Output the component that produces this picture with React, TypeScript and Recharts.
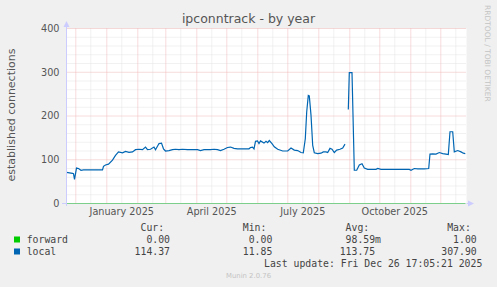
import { LineChart, Line, XAxis, YAxis, CartesianGrid } from "recharts";

const DAY_MS = 86400000;
// graph covers 400 days ending at the last update
const START = Date.UTC(2024, 10, 21, 17, 5, 21);

// days since START
const DAYS = [
  0, 6, 7, 8, 10, 12, 14.5, 17, 36, 37, 39, 42, 46, 49, 52, 56, 59, 62.5, 66, 69,
  72.5, 76, 79, 81, 84, 87.5, 89, 92.5, 95, 97, 99, 102.5, 106, 109, 112.5, 116, 121,
  131, 134, 137.5, 144, 147.5, 151, 154, 157.5, 161, 164, 167.5, 171, 182.5, 184, 186,
  187.5, 189, 191, 192.5, 194, 197.5, 199.5, 201.2, 202.8, 205.5, 207.8, 211.2, 216.2,
  221.2, 224.5, 227.8, 231.2, 234.5, 236.8, 238.8, 240.2, 241.8, 242.8, 244.5, 246.2,
  247.8, 251.2, 254.5, 256.8, 259.5, 261.2, 263.5, 265.5, 267.8, 270.2, 273.5, 276.2,
  278.5, 280, 281.8, 282.8, 285.5, 287.8, 290.2, 292.8, 295.5, 297.8, 301.2, 309.5,
  311.2, 314.5, 342.8, 344.5, 347.8, 351.2, 357.8, 362.2, 363.5, 366.2, 369.5, 372.8,
  376.2, 379.5, 381.8, 383.5, 386.2, 387.8, 391.2, 394.5, 396.8, 398.8,
];
const LOCAL: (number | null)[] = [
  71, 69, 68, 55, 81, 80, 76, 77, 77, 85, 88, 90, 99, 110, 118, 116, 119, 117, 118, 123,
  124, 123, 129, 123, 124, 129, 123, 137, 138, 125, 120, 121, 123, 124, 123, 124, 123,
  123, 121, 123, 123, 124, 123, 121, 124, 128, 129, 126, 125, 125, 128, 129,
  125, 142, 143, 137, 143, 138, 142, 139, 144, 137, 129.5, 124, 120,
  120, 127, 122, 121, 116.5, 116, 148, 209, 247, 246, 202, 133,
  116, 114, 115, 118, 118, 116.5, 126, 124, 116.5, 122, 124, 127,
  135.6, null, 215, 299, 299, 76, 76, 88, 91, 81, 78, 78,
  80, 78, 78, 76, 80, 79, 79, 80, 113, 113.5, 113, 116.5,
  114, 113, 112, 164, 164, 118, 121, 118, 115, 114,
];
const FORWARD_DAYS = [0, 399];
const FORWARD = [0, 0];

const Y_TICKS = [0, 100, 200, 300, 400];
const Y_MAJOR = [100, 200, 300, 400];
const Y_MINOR = [20, 40, 60, 80, 120, 140, 160, 180, 220, 240, 260, 280, 320, 340, 360, 380];

const MONTH_STARTS = [
  "2024-12-01", "2025-01-01", "2025-02-01", "2025-03-01", "2025-04-01", "2025-05-01",
  "2025-06-01", "2025-07-01", "2025-08-01", "2025-09-01", "2025-10-01", "2025-11-01",
  "2025-12-01",
];
const MID_MONTHS = [
  "2024-12-16", "2025-01-16", "2025-02-16", "2025-03-16", "2025-04-16", "2025-05-16",
  "2025-06-16", "2025-07-16", "2025-08-16", "2025-09-16", "2025-10-16", "2025-11-16",
  "2025-12-16",
];
const X_LABEL_DATES = ["2025-01-16", "2025-04-16", "2025-07-16", "2025-10-16"];
const X_LABELS = ["January 2025", "April 2025", "July 2025", "October 2025"];

const SERIES_NAMES = ["forward", "local"];
const SERIES_COLORS = ["#00cc00", "#0066b3"];
const HEADERS = ["Cur: ", "Min: ", "Avg:  ", "Max: "];
const CUR = ["0.00", "114.37"];
const MIN = ["0.00", "11.85"];
const AVG = ["98.59m", "113.75 "];
const MAX = ["1.00", "307.90"];

const dayOf = (s: string) => (Date.parse(s + "T00:00:00Z") - START) / DAY_MS;

const localData = DAYS.map((d, i) => ({ day: d, local: LOCAL[i] }));
const forwardData = FORWARD_DAYS.map((d, i) => ({ day: d, forward: FORWARD[i] }));
const labelDays = X_LABEL_DATES.map(dayOf);

const MONO = "'DejaVu Sans Mono', monospace";
const SANS = "'DejaVu Sans', sans-serif";
const COLS = [170, 272.3, 381, 476.7];

export default function App() {
  const rows = [CUR, MIN, AVG, MAX];
  return (
    <div style={{ position: "absolute", left: 0, top: 0, width: 497, height: 287, background: "#f0f0f0" }}>
      <LineChart
        width={497}
        height={287}
        data={localData}
        margin={{ top: 28.5, right: 30.5, bottom: 63.5, left: 0 }}
        style={{ fontFamily: SANS }}
      >
        <CartesianGrid
          horizontalValues={Y_MINOR}
          verticalValues={MID_MONTHS.map(dayOf)}
          stroke="#e3e3e3"
          strokeDasharray="1 1"
          fill="#ffffff"
        />
        <CartesianGrid
          horizontalValues={Y_MAJOR}
          verticalValues={MONTH_STARTS.map(dayOf)}
          stroke="#f0b8b8"
          strokeDasharray="1 1"
        />
        <XAxis
          dataKey="day"
          type="number"
          domain={[0, 400]}
          allowDataOverflow
          ticks={labelDays}
          tickFormatter={(v) => X_LABELS[labelDays.indexOf(v)] ?? ""}
          tick={{ fill: "#555", fontSize: 9.7 }}
          tickSize={0}
          tickMargin={5}
          axisLine={false}
          height={20}
          interval={0}
        />
        <YAxis
          type="number"
          domain={[0, 400]}
          ticks={Y_TICKS}
          tick={{ fill: "#555", fontSize: 9.7 }}
          tickSize={0}
          tickMargin={7}
          axisLine={false}
          width={66.5}
          interval={0}
        />
        <Line
          data={forwardData}
          dataKey="forward"
          type="linear"
          stroke="#7ccf8a"
          strokeWidth={1.2}
          dot={false}
          connectNulls
          isAnimationActive={false}
        />
        <Line
          dataKey="local"
          type="linear"
          stroke="#0066b3"
          strokeWidth={1.2}
          dot={false}
          isAnimationActive={false}
        />
      </LineChart>

      <svg
        width={497}
        height={287}
        style={{ position: "absolute", left: 0, top: 0, pointerEvents: "none" }}
      >
        <text x={248.5} y={22.5} textAnchor="middle" fontFamily={SANS} fontSize={12.5} fill="#555">
          ipconntrack - by year
        </text>
        <text
          transform="translate(14.5,115) rotate(-90)"
          textAnchor="middle"
          fontFamily={SANS}
          fontSize={11}
          fill="#555"
        >
          established connections
        </text>
        <text
          transform="translate(485,5) rotate(90)"
          fontFamily={SANS}
          fontSize={7.5}
          fill="#c4c4c4"
        >
          RRDTOOL / TOBI OETIKER
        </text>

        {/* axes with arrows */}
        <line x1={66.5} y1={206} x2={66.5} y2={26} stroke="#ccccff" />
        <polygon points="63.5,27 69.5,27 66.5,21" fill="#ccccff" />
        <line x1={62} y1={203.5} x2={66.5} y2={203.5} stroke="#ccccff" />
        <line x1={466.5} y1={203.5} x2={469} y2={203.5} stroke="#ccccff" />
        <polygon points="468,200.5 468,206.5 474,203.5" fill="#ccccff" />

        {/* legend */}
        {HEADERS.map((h, i) => (
          <text
            key={h}
            x={COLS[i]}
            y={231}
            textAnchor="end"
            fontFamily={MONO}
            fontSize={9.8}
            fill="#444"
            style={{ whiteSpace: "pre" }}
          >
            {h}
          </text>
        ))}
        {SERIES_NAMES.map((name, r) => {
          const y = 242.7 + r * 12;
          return (
            <g key={name}>
              <rect x={14} y={y - 6.2} width={6} height={6} fill={SERIES_COLORS[r]} />
              <text x={26.7} y={y} fontFamily={MONO} fontSize={9.8} fill="#444">
                {name}
              </text>
              {rows.map((col, c) => (
                <text
                  key={c}
                  x={COLS[c]}
                  y={y}
                  textAnchor="end"
                  fontFamily={MONO}
                  fontSize={9.8}
                  fill="#444"
                  style={{ whiteSpace: "pre" }}
                >
                  {col[r]}
                </text>
              ))}
            </g>
          );
        })}
        <text x={482.3} y={267} textAnchor="end" fontFamily={MONO} fontSize={9.8} fill="#444">
          Last update: Fri Dec 26 17:05:21 2025
        </text>
        <text x={248.5} y={278.3} textAnchor="middle" fontFamily={SANS} fontSize={6.9} fill="#c4c4c4">
          Munin 2.0.76
        </text>
      </svg>
    </div>
  );
}
